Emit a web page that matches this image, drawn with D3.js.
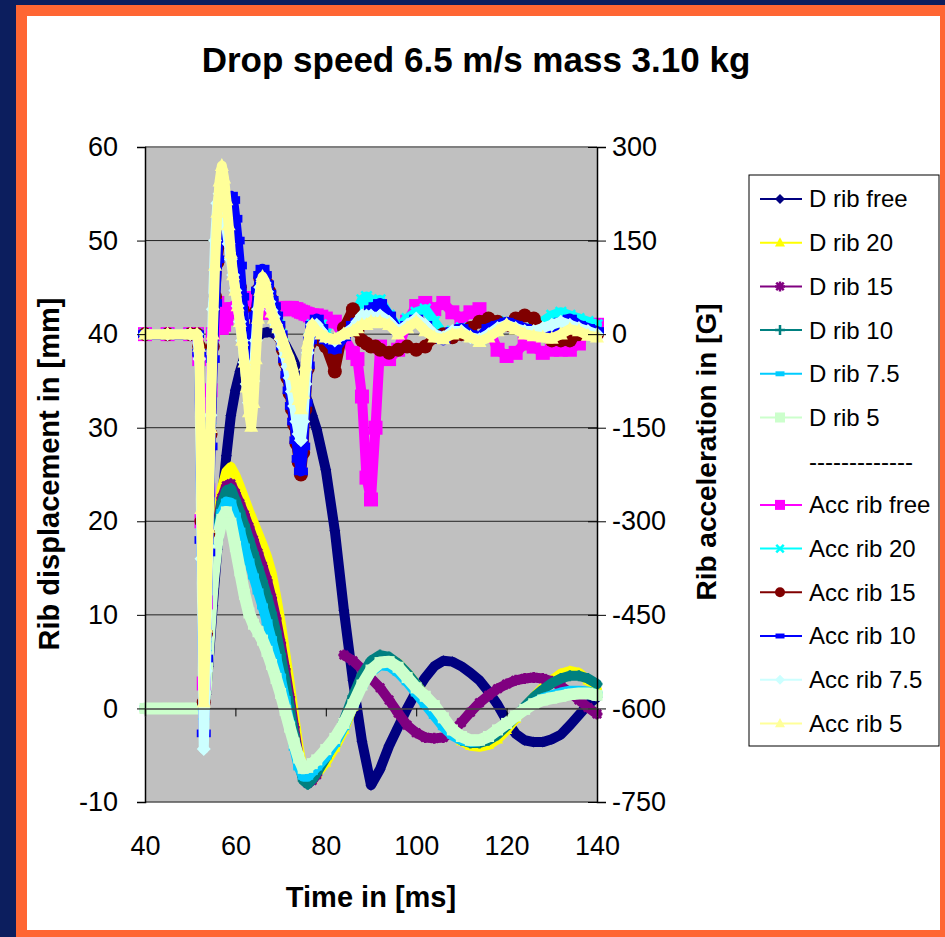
<!DOCTYPE html>
<meta charset="utf-8">
<style>
body { margin: 0; background: #0c1e5e; }
svg { display: block; font-family: "Liberation Sans", Arial, sans-serif; }
</style>
<body>
<script src="https://d3js.org/d3.v7.min.js"></script>
<script>

// time grid of the displacement series (ms)
var tDisp = [40,45,50,52,53,53.5,54,55,56,57,58,59,60,61,62,63,64,65,66,67,68,69,70,71,72,73,74,75,76,77,78,
  80,82,84,86,88,90,92,94,96,98,100,102,104,106,108,110,112,114,116,118,120,122,124,126,128,130,132,134,136,138,140];

// rib displacement in mm (left axis)
var dRibFree = [0,0,0,0,0,1.5,4.5,11,17,22.3,27,31.3,34,36,37.6,38.6,39.3,39.8,40.1,40.2,40.2,39.9,39.5,38.9,38,37,35.6,34.2,32.8,31.3,29.8,
  25.5,19,10.5,3,-3.5,-8.2,-6.5,-4,-2,0,1.8,3.3,4.5,5.1,5,4.5,3.8,3,1.8,0.4,-1.3,-2.7,-3.4,-3.6,-3.6,-3.3,-2.8,-1.8,-0.7,0.4,1.2];
var dRib20 = [0,0,0,0,0,2.5,7,15,20,23.5,25.3,25.8,24.9,23.7,22.4,21.1,19.9,18.7,17.5,16.2,14.5,12,9.2,6,2.8,-0.8,-4.2,-6.7,-7.8,-7.6,-7,
  -5.8,-4.2,-2.3,0.2,2.8,4.6,5.4,5.4,4.8,3.8,2.6,1.3,0,-1.4,-2.6,-3.5,-4,-4.1,-3.9,-3.3,-2.3,-1.1,0.1,1.2,2.2,3,3.7,4,3.8,3,2];
var dRib15 = [0,0,0,0,0,2.5,7,14.5,19.5,22.5,23.8,24,23,21.9,20.7,19.4,18,16.6,15.2,13.7,11.8,9.6,7,4.2,1.2,-2,-5.2,-7.3,-8,-7.7,-7.1,
  null,null,5.7,5.1,4.2,3.2,2.2,0.9,-0.5,-1.8,-2.6,-3.1,-3.2,-3.1,-2.5,-1.5,-0.4,0.6,1.4,2.1,2.6,3,3.2,3.3,3.2,2.9,2.4,1.7,0.9,0.1,-0.6];
var dRib10 = [0,0,0,0,0,2.5,6.8,14.5,19,22,23.3,23.5,22.3,21,19.6,18.1,16.6,15.1,13.6,12,10.2,8.2,5.8,3.1,0.2,-2.8,-5.7,-7.7,-8.1,-7.6,-6.9,
  -5.3,-3.5,-1.3,1.3,3.6,5.1,5.7,5.5,4.8,3.8,2.6,1.2,-0.2,-1.6,-2.7,-3.4,-3.7,-3.7,-3.4,-2.8,-1.9,-0.9,0.2,1.2,2,2.7,3.2,3.5,3.5,3.2,2.6];
var dRib7_5 = [0,0,0,0,0,2.5,6.6,14,18.5,21,22.1,22,20.6,19,17.3,15.7,14.1,12.5,10.9,9.2,7.4,5.5,3.4,1,-1.6,-4.2,-6.3,-7.3,-7.3,-6.8,-6.3,
  -5.2,-3.8,-2,0.3,2.4,3.9,4.6,4.5,3.8,2.8,1.6,0.4,-0.8,-2,-2.9,-3.4,-3.6,-3.5,-3.1,-2.4,-1.6,-0.8,0,0.6,1.1,1.4,1.7,1.9,1.9,1.8,1.5];
var dRib5 = [0,0,0,0,0.3,2.5,6.5,13.5,18,20.2,21,19.8,17.3,14.7,12.2,10.2,9,8.2,7.3,6.1,4.7,3.2,1.6,-0.2,-2,-3.7,-5.3,-6.4,-6.3,-5.9,-5.5,
  -4.4,-3.2,-1.6,0.4,2.5,4.1,4.9,5,4.4,3.3,2.2,1.3,0.3,-1,-2.3,-3,-3.4,-3.4,-3,-2.3,-1.6,-0.8,-0.1,0.5,0.9,1.1,1.3,1.5,1.6,1.6,1.4];

// time grid of the acceleration series (ms)
var tAcc = [40,45,50,51.5,
  52,52.5,53,53.5,54,54.5,55,55.5,56,56.5,57,
  57.5,58,58.5,59,59.5,60,60.5,61,61.5,62,
  62.5,63,63.5,64,64.5,65,65.5,66,66.5,67,
  67.5,68,68.5,69,69.5,70,70.5,71,71.5,72,
  72.5,73,73.5,74,74.5,75,75.5,76,76.5,77,
  78,79,80,82,84,86,
  87,88,89,90,91,92,
  94,96,98,100,102,104,106,108,110,112,114,116,
  118,120,122,124,126,128,130,132,134,136,138,140];

// rib acceleration in G (right axis)
var accRibFree = [0,0,0,0,
  -40,-300,-560,-430,-250,-90,0,40,50,30,10,
  15,25,35,40,40,40,42,45,50,55,
  58,55,50,45,40,35,35,35,35,35,
  35,35,38,38,40,40,40,42,42,42,
  42,40,40,38,36,35,33,32,30,30,
  30,28,25,20,-5,-30,
  -40,-100,-230,-265,-150,-20,
  -40,-25,20,45,50,40,50,35,25,35,40,10,
  -25,-35,-30,-15,-20,-30,-25,-25,-25,-15,10,15];
var accRib20 = [0,0,0,0,
  -30,-320,-610,-500,-330,-150,0,100,165,200,210,
  205,195,180,160,140,115,85,55,20,-20,
  -60,-90,-95,-60,0,50,85,95,90,75,
  60,48,38,28,15,0,-15,-30,-50,-70,
  -95,-120,-145,-165,-180,-150,-90,-40,-5,15,
  20,15,0,-15,5,20,
  40,55,60,55,50,55,
  30,10,25,35,40,20,0,5,10,0,-10,0,
  10,20,15,5,10,20,30,35,30,25,20,15];
var accRib15 = [0,0,0,0,
  -20,-300,-590,-480,-320,-160,-20,60,115,145,160,
  170,180,185,180,165,140,110,75,40,5,
  -30,-50,-40,-5,35,70,90,100,92,80,
  68,55,42,28,12,-5,-25,-45,-70,-95,
  -120,-145,-175,-205,-225,-190,-120,-55,-15,5,
  0,-10,-20,-60,10,40,
  5,-10,-15,-20,-20,-25,
  -30,-25,-20,-25,-20,-5,0,-5,0,10,20,25,
  20,15,25,30,25,5,-10,-10,-10,0,5,0];
var accRib10 = [0,0,0,0,
  -30,-330,-640,-520,-350,-180,-40,50,120,165,190,
  205,215,220,222,215,185,150,110,60,10,
  -40,-70,-60,-20,30,70,95,105,95,80,
  65,55,45,30,15,0,-20,-40,-65,-90,
  -115,-140,-170,-200,-220,-180,-110,-50,-10,15,
  25,10,-10,-25,-5,15,
  20,25,30,40,45,50,
  30,5,15,25,15,0,-10,5,10,0,-5,10,
  15,20,15,10,5,0,10,20,25,15,10,5];
var accRib7_5 = [0,0,0,0,
  -40,-360,-665,-540,-340,-130,40,150,210,225,215,
  195,170,145,120,95,70,45,20,-10,-45,
  -80,-110,-115,-75,-10,40,75,88,82,68,
  52,38,28,15,5,-8,-20,-35,-52,-70,
  -92,-115,-140,-160,-170,-140,-80,-30,0,15,
  15,5,-5,-10,0,10,
  20,30,30,30,25,30,
  20,5,15,25,15,0,-5,5,5,-5,-8,0,
  10,15,10,5,5,10,15,20,15,10,5,0];
var accRib5 = [0,0,0,0,
  -20,-280,-590,-470,-310,-150,0,110,195,245,270,
  250,215,175,130,95,70,45,20,-10,-45,
  -85,-125,-148,-110,-40,25,70,92,85,70,
  50,35,25,18,10,0,-10,-20,-30,-38,
  -50,-65,-85,-105,-120,-95,-50,-15,5,15,
  5,0,-5,-8,0,5,
  10,15,15,20,18,20,
  15,0,10,20,5,-5,-8,0,2,-5,-12,-5,
  5,15,8,0,-3,-5,-7,0,8,5,-2,-5];

// axis ticks
var dispTicks = [-10,0,10,20,30,40,50,60];
var accTicks = [-750,-600,-450,-300,-150,0,150,300];
var timeTicks = [40,60,80,100,120,140];

var series = [
  {name: "D rib free", t: tDisp, v: dRibFree, color: "#000080", marker: "diamond", axis: "left"},
  {name: "D rib 20", t: tDisp, v: dRib20, color: "#ffff00", marker: "triangle", axis: "left"},
  {name: "D rib 15", t: tDisp, v: dRib15, color: "#800080", marker: "star", axis: "left"},
  {name: "D rib 10", t: tDisp, v: dRib10, color: "#008080", marker: "plus", axis: "left"},
  {name: "D rib 7.5", t: tDisp, v: dRib7_5, color: "#00ccff", marker: "dash", axis: "left"},
  {name: "D rib 5", t: tDisp, v: dRib5, color: "#ccffcc", marker: "square", axis: "left"},
  {name: "Acc rib free", t: tAcc, v: accRibFree, color: "#ff00ff", marker: "square", axis: "right"},
  {name: "Acc rib 20", t: tAcc, v: accRib20, color: "#00ffff", marker: "x", axis: "right"},
  {name: "Acc rib 15", t: tAcc, v: accRib15, color: "#800000", marker: "circle", axis: "right"},
  {name: "Acc rib 10", t: tAcc, v: accRib10, color: "#0000ff", marker: "dash", axis: "right"},
  {name: "Acc rib 7.5", t: tAcc, v: accRib7_5, color: "#ccffff", marker: "diamond", axis: "right"},
  {name: "Acc rib 5", t: tAcc, v: accRib5, color: "#ffff99", marker: "triangle", axis: "right"}
];

var W = 945, H = 937;
var plotL = 145, plotR = 597, plotT = 147, plotB = 802;

var svg = d3.select("body").append("svg")
    .attr("width", W)
    .attr("height", H);

// frame: navy page, orange border, white sheet
svg.append("rect").attr("width", W).attr("height", H).attr("fill", "#0c1e5e");
svg.append("rect").attr("x", 16).attr("y", 5).attr("width", W - 16).attr("height", H - 5).attr("fill", "#ff6633");
svg.append("rect").attr("x", 27).attr("y", 16).attr("width", 913).attr("height", 914).attr("fill", "#fff");

var x = d3.scaleLinear().domain([40, 140]).range([plotL, plotR]);
var yL = d3.scaleLinear().domain([-10, 60]).range([plotB, plotT]);
var yR = d3.scaleLinear().domain([-750, 300]).range([plotB, plotT]);

// plot area
svg.append("rect")
    .attr("x", plotL).attr("y", plotT)
    .attr("width", plotR - plotL).attr("height", plotB - plotT)
    .attr("fill", "#c0c0c0");

// gridlines
svg.append("g").selectAll("line")
    .data(dispTicks.slice(1, -1))
  .join("line")
    .attr("x1", plotL).attr("x2", plotR)
    .attr("y1", d => yL(d)).attr("y2", d => yL(d))
    .attr("stroke", "#222").attr("stroke-width", 1);

svg.append("line")
    .attr("x1", plotL).attr("x2", plotR).attr("y1", plotT).attr("y2", plotT)
    .attr("stroke", "#808080").attr("stroke-width", 2);
svg.append("line")
    .attr("x1", plotL).attr("x2", plotR).attr("y1", plotB).attr("y2", plotB)
    .attr("stroke", "#555").attr("stroke-width", 1.5);

// marker shapes
function drawMarker(g, type, s, color) {
  var h = s / 2;
  if (type === "circle") {
    g.append("circle").attr("r", h).attr("fill", color);
  } else if (type === "square") {
    g.append("rect").attr("x", -h).attr("y", -h).attr("width", s).attr("height", s).attr("fill", color);
  } else if (type === "dash") {
    g.append("rect").attr("x", -h).attr("y", -h * 0.55).attr("width", s).attr("height", s * 0.55).attr("fill", color);
  } else if (type === "diamond") {
    g.append("path").attr("d", "M0," + (-h) + "L" + h + ",0L0," + h + "L" + (-h) + ",0Z").attr("fill", color);
  } else if (type === "triangle") {
    g.append("path").attr("d", "M0," + (-h * 1.1) + "L" + h + "," + (h * 0.75) + "L" + (-h) + "," + (h * 0.75) + "Z").attr("fill", color);
  } else {
    var d = "";
    if (type === "plus" || type === "star") d += "M" + (-h) + ",0H" + h + "M0," + (-h) + "V" + h;
    if (type === "x" || type === "star") d += "M" + (-h * 0.75) + "," + (-h * 0.75) + "L" + (h * 0.75) + "," + (h * 0.75) +
                                              "M" + (-h * 0.75) + "," + (h * 0.75) + "L" + (h * 0.75) + "," + (-h * 0.75);
    g.append("path").attr("d", d).attr("fill", "none").attr("stroke", color).attr("stroke-width", 2.5);
  }
}

// series: dense marker bands are drawn as a thick line plus markers
var plot = svg.append("g");
series.forEach(function(s) {
  var y = s.axis === "left" ? yL : yR;
  var pts = s.t.map(function(t, i) { return [t, s.v[i]]; });
  var line = d3.line()
      .defined(d => d[1] !== null)
      .x(d => x(d[0]))
      .y(d => y(d[1]));
  var lw = s.axis === "left" ? (s.name === "D rib 5" ? 12 : 10) : 10;
  plot.append("path")
      .datum(pts)
      .attr("d", line)
      .attr("fill", "none")
      .attr("stroke", s.color)
      .attr("stroke-width", lw)
      .attr("stroke-linejoin", "round")
      .attr("stroke-linecap", "round");
  plot.append("g").selectAll("g")
      .data(pts.filter(d => d[1] !== null))
    .join("g")
      .attr("transform", d => "translate(" + x(d[0]) + "," + y(d[1]) + ")")
      .each(function() { drawMarker(d3.select(this), s.marker, s.axis === "left" ? 11 : 14, s.color); });
});

// axes
var fontTick = "27px";
var fmt = function(d) { return String(d); };
var axL = svg.append("g")
    .attr("transform", "translate(" + plotL + ",0)")
    .call(d3.axisLeft(yL).tickValues(dispTicks).tickSize(8).tickPadding(19).tickFormat(fmt));
var axR = svg.append("g")
    .attr("transform", "translate(" + plotR + ",0)")
    .call(d3.axisRight(yR).tickValues(accTicks).tickSize(9).tickPadding(6).tickFormat(fmt));
svg.append("g")
    .attr("transform", "translate(" + plotR + ",0)")
    .call(d3.axisLeft(yR).tickValues(accTicks).tickSize(9).tickFormat(""))
    .select(".domain").remove();
var axX = svg.append("g")
    .attr("transform", "translate(0," + yL(0) + ")")
    .call(d3.axisBottom(x).tickValues(timeTicks).tickSize(8).tickFormat(""));
var axXlab = svg.append("g")
    .attr("transform", "translate(0," + plotB + ")")
    .call(d3.axisBottom(x).tickValues(timeTicks).tickSize(0).tickPadding(34).tickFormat(fmt));
axXlab.select(".domain").remove();

[axL, axR, axX, axXlab].forEach(function(a) {
  a.selectAll("text").style("font-size", fontTick).style("font-family", "Liberation Sans, Arial, sans-serif").attr("fill", "#000");
  a.selectAll("line").attr("stroke", "#000");
});
axL.select(".domain").attr("stroke", "#000").attr("stroke-width", 1.5);
axR.select(".domain").attr("stroke", "#000").attr("stroke-width", 1.5);
axX.select(".domain").attr("stroke", "#444").attr("stroke-width", 1.5);

// titles
svg.append("text")
    .attr("x", 476).attr("y", 72)
    .attr("text-anchor", "middle")
    .style("font-size", "35px").style("font-weight", "bold")
    .text("Drop speed 6.5 m/s mass 3.10 kg");
svg.append("text")
    .attr("x", 371).attr("y", 907)
    .attr("text-anchor", "middle")
    .style("font-size", "29px").style("font-weight", "bold")
    .text("Time in [ms]");
svg.append("text")
    .attr("transform", "translate(59,474)rotate(-90)")
    .attr("text-anchor", "middle")
    .style("font-size", "29px").style("font-weight", "bold")
    .text("Rib displacement in [mm]");
svg.append("text")
    .attr("transform", "translate(716,452)rotate(-90)")
    .attr("text-anchor", "middle")
    .style("font-size", "28px").style("font-weight", "bold")
    .text("Rib acceleration in [G]");

// legend
var legend = svg.append("g");
legend.append("rect")
    .attr("x", 749).attr("y", 175)
    .attr("width", 190).attr("height", 571)
    .attr("fill", "#fff").attr("stroke", "#000").attr("stroke-width", 1);

var legendItems = series.slice(0, 6).concat([{name: "-------------", spacer: true}], series.slice(6));
var item = legend.selectAll(".legend")
    .data(legendItems)
  .join("g")
    .attr("class", "legend")
    .attr("transform", (d, i) => "translate(0," + (199 + i * 43.7) + ")");

item.each(function(d) {
  var g = d3.select(this);
  if (!d.spacer) {
    g.append("line").attr("x1", 760).attr("x2", 802).attr("stroke", d.color).attr("stroke-width", 2);
    var m = g.append("g").attr("transform", "translate(780,0)");
    drawMarker(m, d.marker, d.marker === "dash" ? 9 : 10, d.color);
  }
  g.append("text")
      .attr("x", 809).attr("dy", "0.35em")
      .style("font-size", "24px")
      .text(d.name);
});

</script>
</body>
